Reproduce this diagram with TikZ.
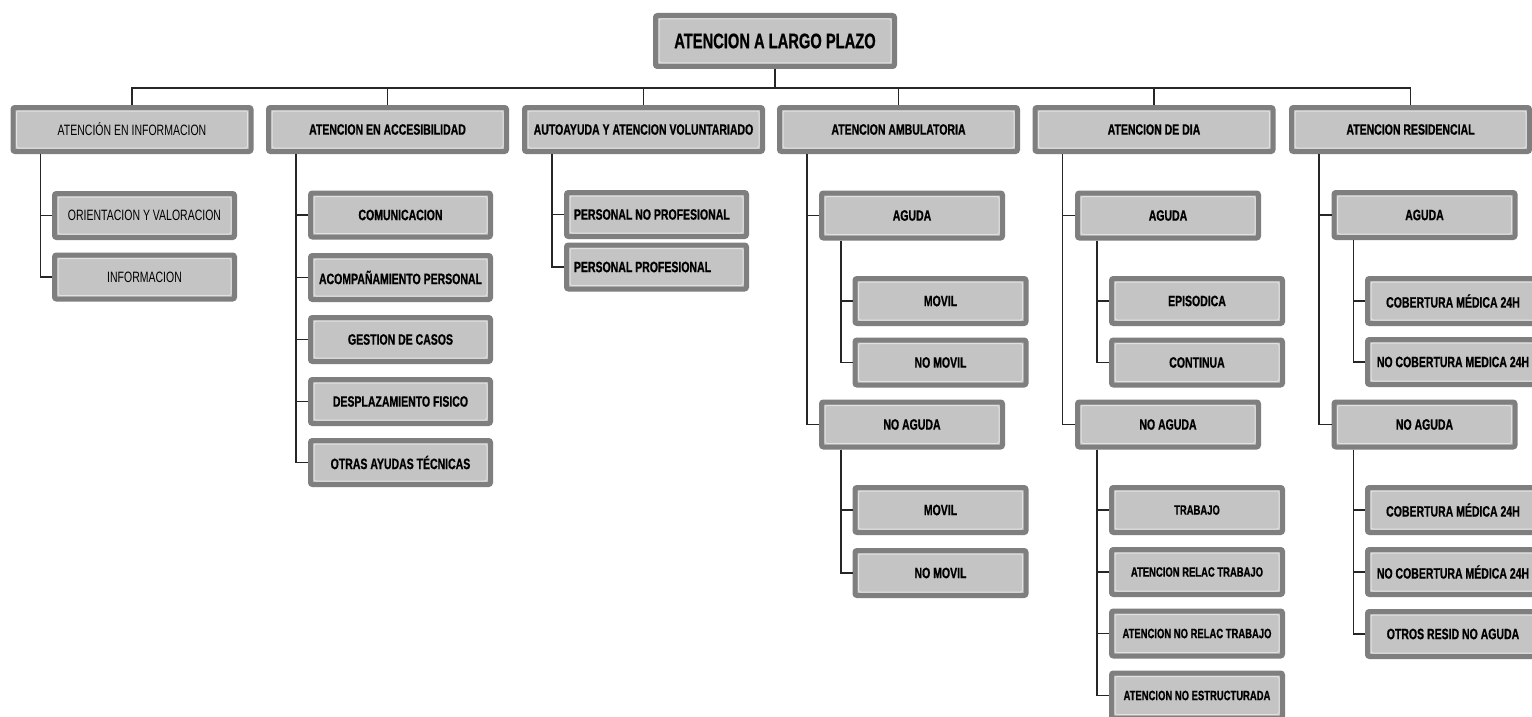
\documentclass[tikz,border=0pt]{standalone}
\usepackage{fontspec}
\setmainfont{Liberation Sans}[FakeStretch=0.7, BoldFeatures={FakeBold=0.8}]
\definecolor{carddark}{HTML}{7F7F7F}
\definecolor{cardfill}{HTML}{C4C4C4}
\definecolor{cardline}{HTML}{E2E2E2}
\newcommand{\boldtext}{\fontsize{15}{17}\selectfont\bfseries}
\newcommand{\regtext}{\fontsize{15}{17}\selectfont}
\newcommand{\smalltext}{\fontsize{13.5}{15}\selectfont\bfseries}
\newcommand{\toptext}{\fontsize{21}{23}\selectfont\bfseries}
\newcommand{\lefttext}[1]{\makebox[165pt][l]{#1}}
\begin{document}
\begin{tikzpicture}[x=1pt,y=-1pt,
  card/.style={rectangle, fill=cardfill, draw=carddark, line width=5pt,
    rounded corners=2pt, inner sep=0pt, align=center, font=\boldtext,
    path picture={\draw[cardline, line width=1pt]
      ([shift={(3.5pt,3.5pt)}]path picture bounding box.south west) rectangle
      ([shift={(-3.5pt,-3.5pt)}]path picture bounding box.north east);}},
  topcard/.style={card, minimum width=239pt, minimum height=51pt, font=\toptext},
  lone/.style={card, minimum width=238pt, minimum height=44pt},
  ltwo/.style={card, minimum width=180pt, minimum height=44pt},
  sub/.style={card, minimum width=181pt, minimum height=45pt},
  leaf/.style={card, minimum width=171pt, minimum height=45pt},
  conn/.style={draw=black!85, line width=1.2pt}]

\clip (0,0) rectangle (1532,717);
\fill[white] (0,0) rectangle (1532,717);

% root and first level
\node[topcard] (root) at (775,41) {ATENCION A LARGO PLAZO};
\node[lone, font=\regtext] (info) at (132,129.5) {ATENCIÓN EN INFORMACION};
\node[lone] (acc)  at (387.5,129.5)  {ATENCION EN ACCESIBILIDAD};
\node[lone] (auto) at (643.5,129.5)  {AUTOAYUDA Y ATENCION VOLUNTARIADO};
\node[lone] (amb)  at (898.5,129.5)  {ATENCION AMBULATORIA};
\node[lone] (dia)  at (1154,129.5)   {ATENCION DE DIA};
\node[lone] (res)  at (1410.5,129.5) {ATENCION RESIDENCIAL};

% informacion
\node[ltwo, font=\regtext] (orient) at (144.5,215.5) {ORIENTACION Y VALORACION};
\node[ltwo, font=\regtext] (infor)  at (144.5,277)   {INFORMACION};

% accesibilidad
\node[ltwo] (com)  at (400.5,215)   {COMUNICACION};
\node[ltwo] (acp)  at (400.5,277.5) {ACOMPAÑAMIENTO PERSONAL};
\node[ltwo] (ges)  at (400.5,339.5) {GESTION DE CASOS};
\node[ltwo] (des)  at (400.5,401.5) {DESPLAZAMIENTO FISICO};
\node[ltwo] (otr)  at (400.5,462.5) {OTRAS AYUDAS TÉCNICAS};

% autoayuda
\node[ltwo] (pnp) at (656.5,214.5) {\lefttext{PERSONAL NO PROFESIONAL}};
\node[ltwo] (pp)  at (656.5,267)   {\lefttext{PERSONAL PROFESIONAL}};

% ambulatoria
\node[sub]  (ambA)  at (912,215.5)   {AGUDA};
\node[sub]  (ambN)  at (912,424.5)   {NO AGUDA};
\node[leaf] (ambA1) at (940.5,301)   {MOVIL};
\node[leaf] (ambA2) at (940.5,362.5) {NO MOVIL};
\node[leaf] (ambN1) at (940.5,510)   {MOVIL};
\node[leaf] (ambN2) at (940.5,573)   {NO MOVIL};

% dia
\node[sub]  (diaA)  at (1168,215.5)  {AGUDA};
\node[sub]  (diaN)  at (1168,424.5)  {NO AGUDA};
\node[leaf] (diaA1) at (1197,301)    {EPISODICA};
\node[leaf] (diaA2) at (1197,362.5)  {CONTINUA};
\node[leaf, font=\smalltext] (diaN1) at (1197,510)   {TRABAJO};
\node[leaf, font=\smalltext] (diaN2) at (1197,572)   {ATENCION RELAC TRABAJO};
\node[leaf, font=\smalltext] (diaN3) at (1197,633.5) {ATENCION NO RELAC TRABAJO};
\node[leaf, font=\smalltext] (diaN4) at (1197,695.5) {ATENCION NO ESTRUCTURADA};

% residencial
\node[sub]  (resA)  at (1424.5,215)   {AGUDA};
\node[sub]  (resN)  at (1424.5,424.5) {NO AGUDA};
\node[leaf] (resA1) at (1453,301) {COBERTURA MÉDICA 24H};
\node[leaf] (resA2) at (1453,362) {NO COBERTURA MEDICA 24H};
\node[leaf] (resN1) at (1453,510) {COBERTURA MÉDICA 24H};
\node[leaf] (resN2) at (1453,572) {NO COBERTURA MÉDICA 24H};
\node[leaf] (resN3) at (1453,634) {OTROS RESID NO AGUDA};

% connectors
\coordinate (bus) at (775,88);
\draw[conn] (root.south) -- (bus);
\foreach \n in {info,acc,auto,amb,dia,res}
  \draw[conn] (\n.north) |- (bus);

\foreach \c in {orient,infor}
  \draw[conn] ([xshift=30pt]info.south west) |- (\c.west);
\foreach \c in {com,acp,ges,des,otr}
  \draw[conn] ([xshift=30pt]acc.south west) |- (\c.west);
\foreach \c in {pnp,pp}
  \draw[conn] ([xshift=30pt]auto.south west) |- (\c.west);
\foreach \c in {ambA,ambN}
  \draw[conn] ([xshift=30pt]amb.south west) |- (\c.west);
\foreach \c in {diaA,diaN}
  \draw[conn] ([xshift=30pt]dia.south west) |- (\c.west);
\foreach \c in {resA,resN}
  \draw[conn] ([xshift=30pt]res.south west) |- (\c.west);

\foreach \c in {ambA1,ambA2}
  \draw[conn] ([xshift=22pt]ambA.south west) |- (\c.west);
\foreach \c in {ambN1,ambN2}
  \draw[conn] ([xshift=22pt]ambN.south west) |- (\c.west);
\foreach \c in {diaA1,diaA2}
  \draw[conn] ([xshift=22pt]diaA.south west) |- (\c.west);
\foreach \c in {diaN1,diaN2,diaN3,diaN4}
  \draw[conn] ([xshift=22pt]diaN.south west) |- (\c.west);
\foreach \c in {resA1,resA2}
  \draw[conn] ([xshift=22pt]resA.south west) |- (\c.west);
\foreach \c in {resN1,resN2,resN3}
  \draw[conn] ([xshift=22pt]resN.south west) |- (\c.west);
\end{tikzpicture}
\end{document}
